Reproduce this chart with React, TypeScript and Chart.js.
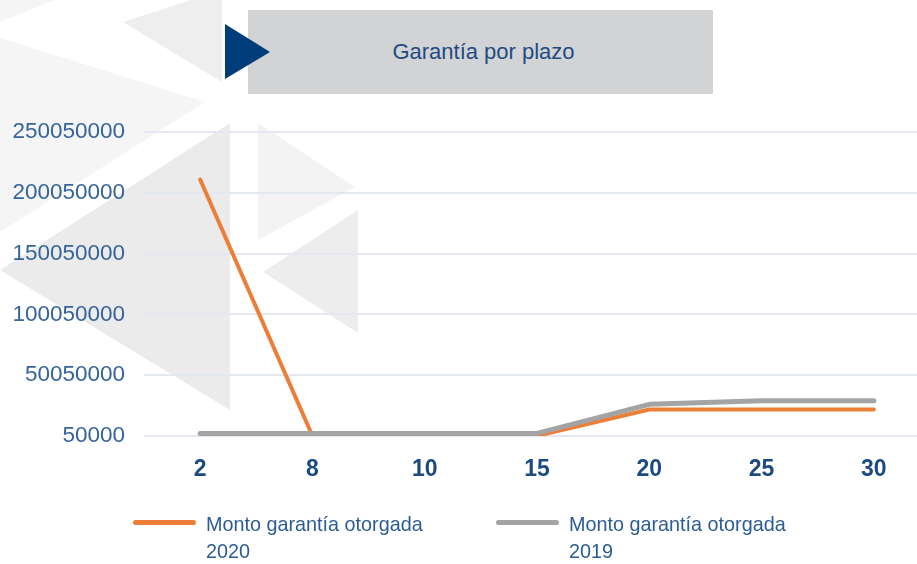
import React, { useEffect, useRef } from "react";
import { Chart, registerables } from "chart.js";

Chart.register(...registerables);

// ---- data ----
const categories = ["2", "8", "10", "15", "20", "25", "30"];
const series2020 = [211000000, 200000, 200000, 200000, 21800000, 21800000, 21800000];
const series2019 = [2200000, 2200000, 2200000, 2200000, 26100000, 29000000, 29000000];
const yTickValues = [50000, 50050000, 100050000, 150050000, 200050000, 250050000];
const seriesNames = ["Monto garantía otorgada 2020", "Monto garantía otorgada 2019"];
const legendLines = [
  ["Monto garantía otorgada", "2020"],
  ["Monto garantía otorgada", "2019"],
];
const titleText = "Garantía por plazo";

const ORANGE = "#EC7E37";
const GRAY = "#A4A4A4";
const FONT = "'Liberation Sans', Arial, sans-serif";

const watermark = {
  id: "watermark",
  beforeDraw(chart: any) {
    const ctx = chart.ctx as CanvasRenderingContext2D;
    const poly = (pts: number[][], color: string) => {
      ctx.beginPath();
      ctx.moveTo(pts[0][0], pts[0][1]);
      for (let i = 1; i < pts.length; i++) ctx.lineTo(pts[i][0], pts[i][1]);
      ctx.closePath();
      ctx.fillStyle = color;
      ctx.fill();
    };
    ctx.save();
    poly([[0, 0], [55, 0], [0, 22]], "#F5F5F5");
    poly([[0, 38], [205, 102], [0, 232]], "#F5F5F5");
    poly([[123, 22], [222, -10], [222, 82]], "#EEEEEE");
    poly([[0, 270], [230, 123], [230, 410]], "#EBEBEB");
    poly([[258, 123], [355, 187], [258, 240]], "#F3F3F3");
    poly([[263, 272], [358, 210], [358, 333]], "#EDEDED");
    ctx.restore();
  },
};

export default function App() {
  const ref = useRef<HTMLCanvasElement>(null);

  useEffect(() => {
    const chart = new Chart(ref.current as HTMLCanvasElement, {
      type: "line",
      data: {
        labels: categories,
        datasets: [
          {
            label: seriesNames[0],
            data: series2020,
            borderColor: ORANGE,
            backgroundColor: ORANGE,
            borderWidth: 4,
            pointRadius: 0,
            tension: 0,
            borderCapStyle: "round",
            borderJoinStyle: "round",
            order: 1,
          },
          {
            label: seriesNames[1],
            data: series2019,
            borderColor: GRAY,
            backgroundColor: GRAY,
            borderWidth: 5,
            pointRadius: 0,
            tension: 0,
            borderCapStyle: "round",
            borderJoinStyle: "round",
            order: 0,
          },
        ],
      },
      options: {
        animation: false,
        responsive: false,
        maintainAspectRatio: false,
        layout: { padding: { top: 132, bottom: 78, left: 0, right: 0 } },
        plugins: {
          legend: { display: false },
          title: { display: false },
          tooltip: { enabled: false },
        },
        scales: {
          x: {
            type: "category",
            offset: true,
            grid: { display: false, drawTicks: false },
            border: { display: false },
            ticks: {
              color: "#1B4A85",
              font: { family: FONT, size: 23, weight: "bold" },
              padding: 20,
              maxRotation: 0,
              autoSkip: false,
            },
            afterFit: (s: any) => {
              s.height = 50;
            },
          },
          y: {
            min: 50000,
            max: 250050000,
            grid: { color: "#E4E9F1", lineWidth: 2, drawTicks: false },
            border: { display: false },
            ticks: {
              color: "#35649C",
              font: { family: FONT, size: 22.5 },
              padding: 19,
              callback: (v: any) => String(v),
            },
            afterBuildTicks: (s: any) => {
              s.ticks = yTickValues.map((v) => ({ value: v }));
            },
            afterFit: (s: any) => {
              s.width = 144;
            },
          },
        },
      },
      plugins: [watermark],
    });
    return () => chart.destroy();
  }, []);

  const colors = [ORANGE, GRAY];
  const legendX = [133, 496];

  return (
    <div
      style={{
        position: "fixed",
        left: 0,
        top: 0,
        width: 917,
        height: 564,
        overflow: "hidden",
        background: "#FFFFFF",
      }}
    >
      <canvas ref={ref} width={930} height={564} style={{ position: "absolute", left: 0, top: 0 }} />
      <div
        style={{
          position: "absolute",
          left: 248,
          top: 10,
          width: 465,
          height: 84,
          background: "#D1D3D4",
          color: "#1F4B84",
          fontFamily: FONT,
          fontSize: 22,
          lineHeight: "84px",
          textAlign: "center",
          paddingLeft: 6,
          boxSizing: "border-box",
        }}
      >
        {titleText}
      </div>
      <svg width={50} height={60} style={{ position: "absolute", left: 224, top: 22 }}>
        <polygon points="1,2 46,30 1,57" fill="#003D7A" />
      </svg>
      {legendLines.map((lines, i) => (
        <React.Fragment key={i}>
          <div
            style={{
              position: "absolute",
              left: legendX[i],
              top: 520,
              width: 63,
              height: 5,
              borderRadius: 3,
              background: colors[i],
            }}
          />
          <div
            style={{
              position: "absolute",
              left: legendX[i] + 73,
              top: 511,
              fontFamily: FONT,
              fontSize: 19.8,
              lineHeight: "27px",
              color: "#2B5C98",
              whiteSpace: "nowrap",
            }}
          >
            {lines.map((l, j) => (
              <div key={j}>{l}</div>
            ))}
          </div>
        </React.Fragment>
      ))}
    </div>
  );
}
